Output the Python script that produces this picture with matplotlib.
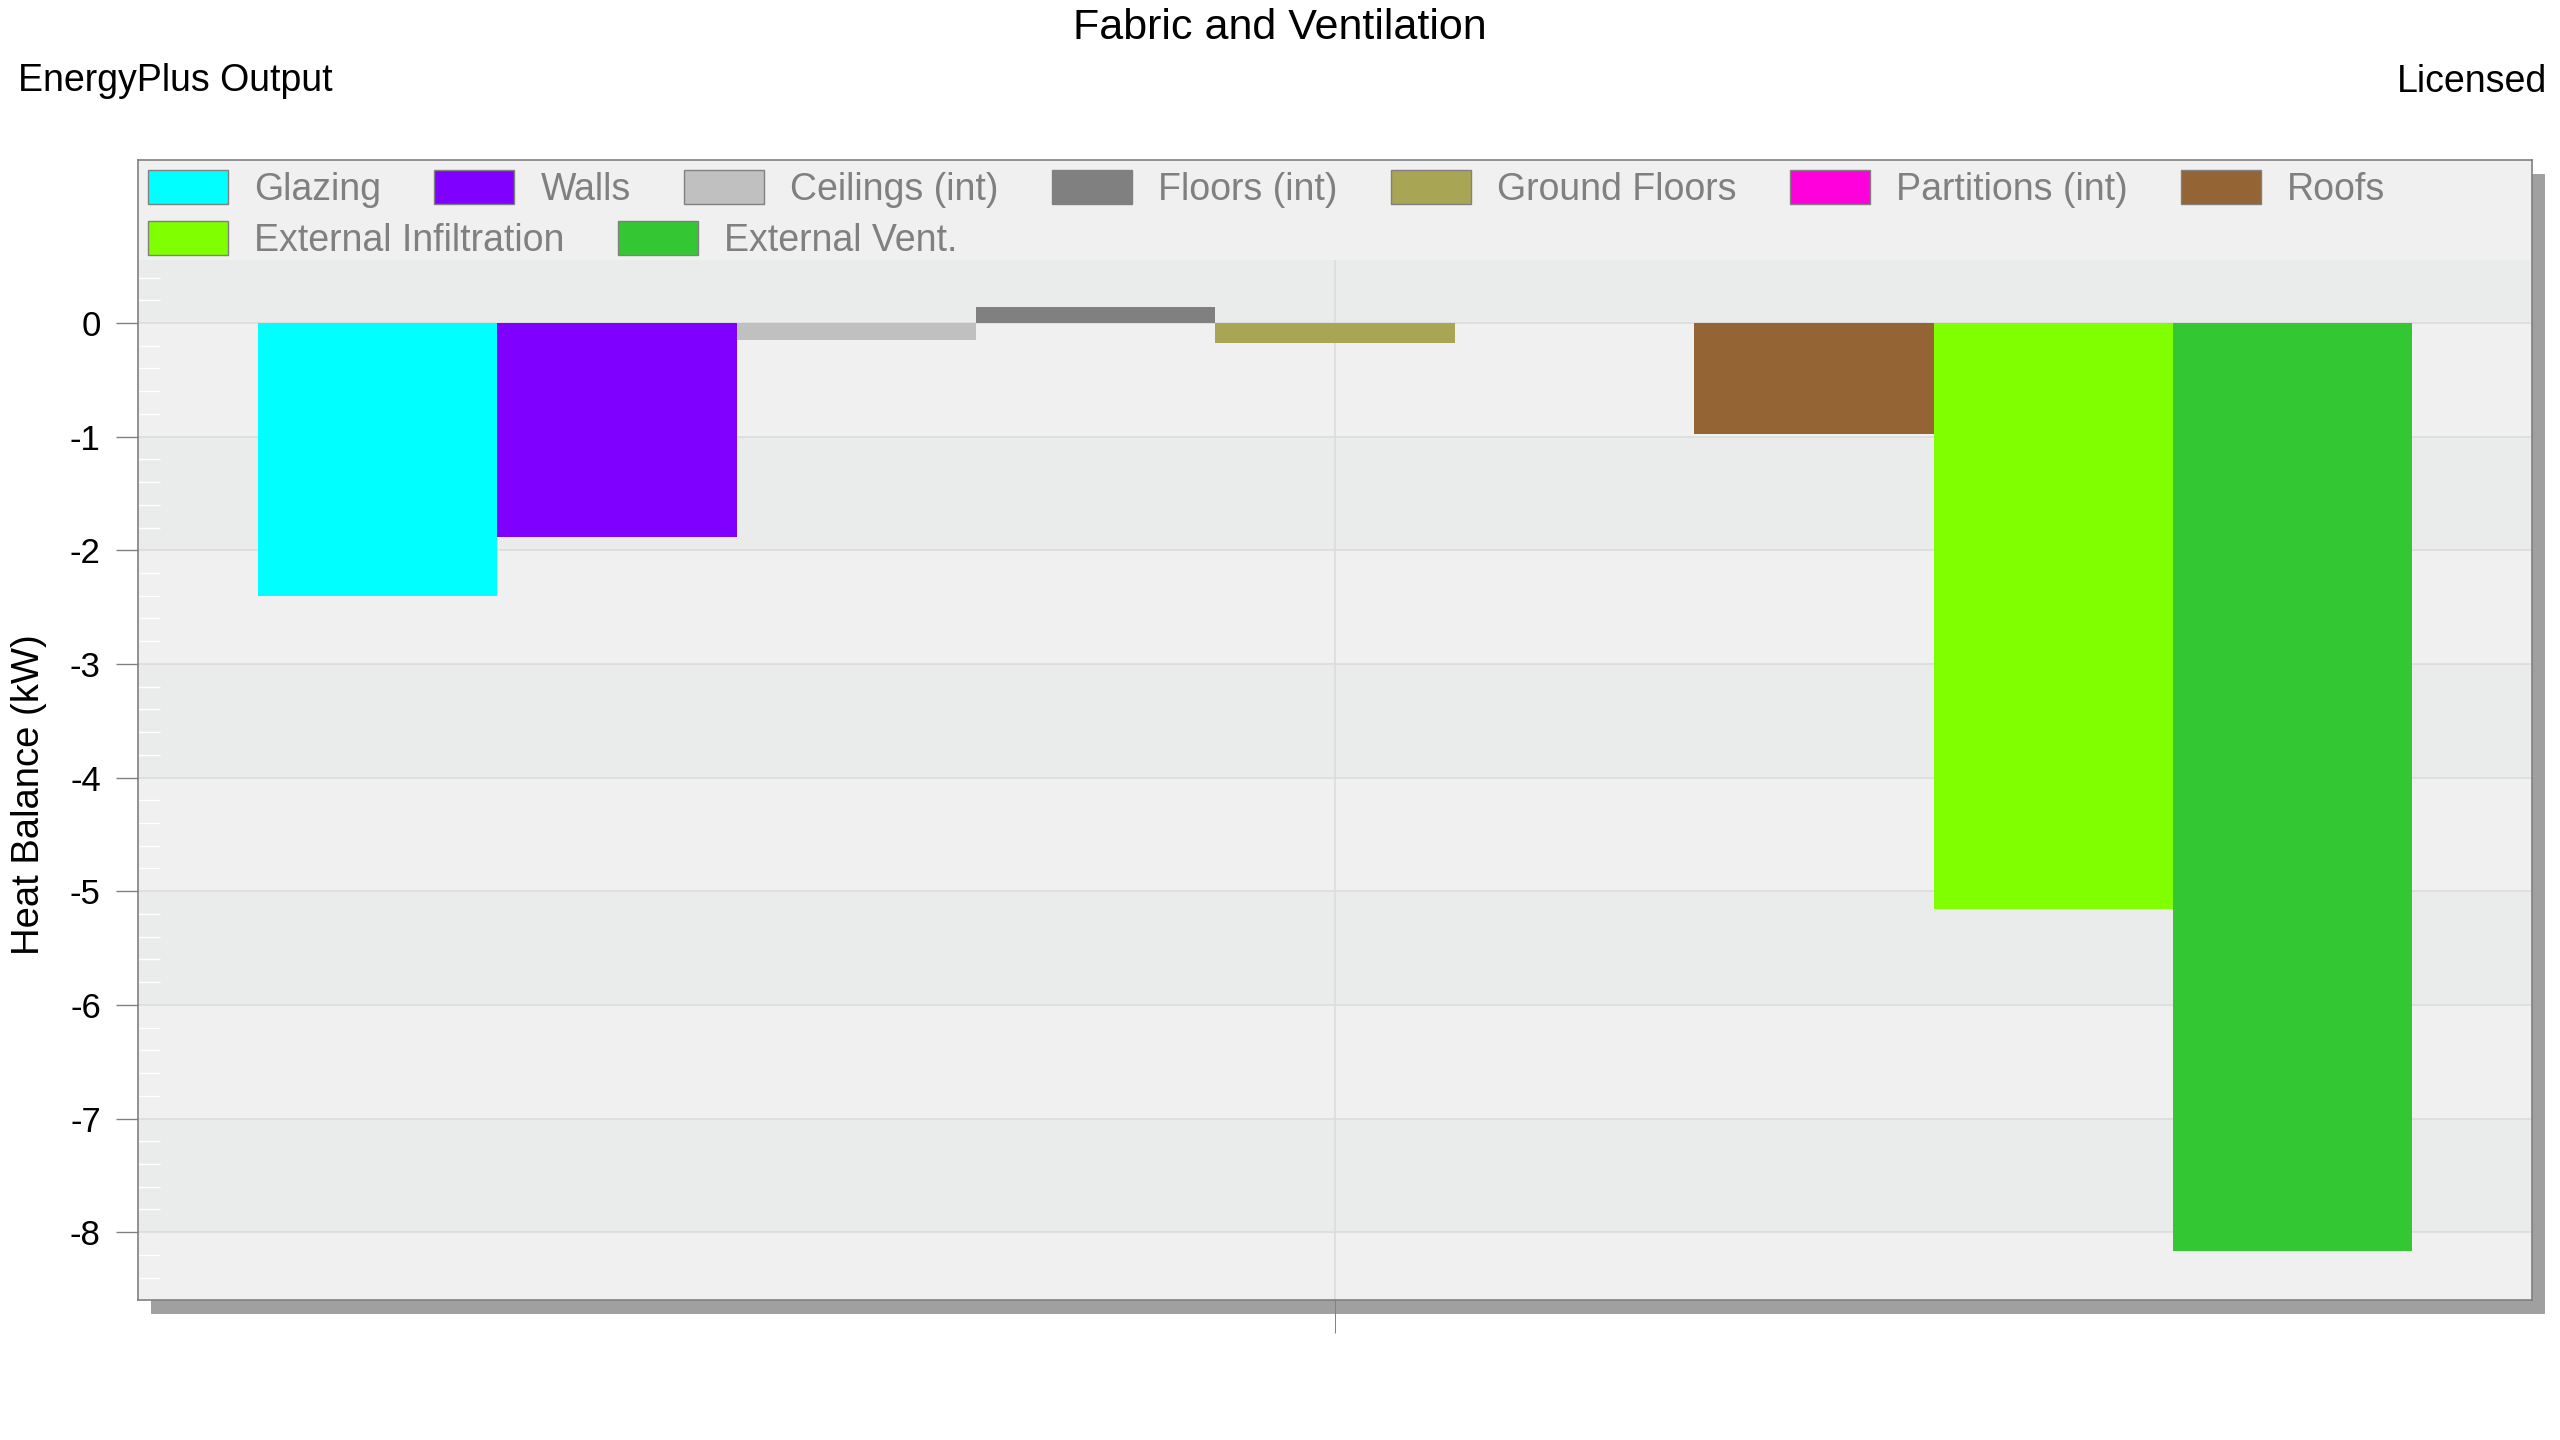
import numpy as np
import matplotlib
matplotlib.use("Agg")
import matplotlib.pyplot as plt
from matplotlib.patches import Patch, Rectangle
from matplotlib.ticker import FixedLocator, NullFormatter

plt.rcParams["font.family"] = ["Liberation Sans", "DejaVu Sans"]
plt.rcParams["axes.unicode_minus"] = False

# Heat balance components (kW)
labels = ["Glazing", "Walls", "Ceilings (int)", "Floors (int)", "Ground Floors",
          "Partitions (int)", "Roofs", "External Infiltration", "External Vent."]
values = [-2.40, -1.88, -0.15, 0.14, -0.18, 0.0, -0.98, -5.16, -8.17]
colors = ["#00FFFF", "#8000FF", "#C0C0C0", "#808080", "#A8A555",
          "#FF00DD", "#956434", "#80FF00", "#33C833"]
yticks = [0, -1, -2, -3, -4, -5, -6, -7, -8]

W, H = 2560, 1440
fig = plt.figure(figsize=(W / 100, H / 100), dpi=100)

# axes box in pixels
ax_l, ax_r, ax_t, ax_b = 138, 2532, 160, 1300
ax = fig.add_axes([ax_l / W, 1 - ax_b / H, (ax_r - ax_l) / W, (ax_b - ax_t) / H])

# drop shadow
fig.add_artist(Rectangle(((ax_l + 13) / W, (H - ax_b - 14) / H),
                         (ax_r - ax_l) / W, (ax_b - ax_t) / H,
                         transform=fig.transFigure, facecolor="#A0A0A0",
                         edgecolor="none", zorder=-1))

ymin, ymax = -8.597, 1.434
legend_floor = 0.554
ax.set_xlim(-0.5, 0.5)
ax.set_ylim(ymin, ymax)

# alternating bands
ax.set_facecolor("#EFF0EF")
for k in range(-9, 2):
    if k % 2 == 0:
        ax.axhspan(k, k + 1, facecolor="#EAECEB", edgecolor="none", zorder=0.2)
# legend strip at the top
ax.axhspan(legend_floor, ymax, facecolor="#EFF0EF", edgecolor="none", zorder=1)

# bars
n = len(values)
group = 0.9
bw = group / n
xs = -group / 2 + bw * (np.arange(n) + 0.5)
ax.bar(xs, values, width=bw, color=colors, edgecolor="none", zorder=2)

# grid
ax.set_axisbelow(True)
ax.grid(True, which="major", color="#DCDCDC", linewidth=1.2)

ax.set_yticks(yticks)
ax.set_yticklabels([str(t) for t in yticks])
minor = [v for v in np.round(np.arange(-8.4, 0.41, 0.2), 1) if abs(v - round(v)) > 1e-6]
ax.yaxis.set_minor_locator(FixedLocator(minor))
ax.yaxis.set_minor_formatter(NullFormatter())
ax.tick_params(axis="y", which="major", direction="out", length=15.8, width=1,
               color="#808080", pad=11, labelsize=25, labelcolor="black")
ax.tick_params(axis="y", which="minor", direction="in", length=15.8, width=1,
               color="white")

ax.set_xticks([0])
ax.set_xticklabels([""])
ax.tick_params(axis="x", which="major", direction="out", length=23.8, width=0.7,
               color="#808080")

for s in ax.spines.values():
    s.set_color("#808080")
    s.set_linewidth(1.2)

# legends (two flowing rows)
handles = [Patch(facecolor=c, edgecolor="#808080", linewidth=1) for c in colors]
leg_kw = dict(loc="center left", bbox_transform=fig.transFigure, frameon=False,
              fontsize=27, labelcolor="#808080", handlelength=2.13,
              handleheight=1.02, handletextpad=0.70, columnspacing=1.42,
              borderpad=0, borderaxespad=0)
leg1 = ax.legend(handles[:7], labels[:7], ncol=7,
                 bbox_to_anchor=(148 / W, 1 - 189 / H), **leg_kw)
ax.add_artist(leg1)
leg2 = ax.legend(handles[7:], labels[7:], ncol=2,
                 bbox_to_anchor=(148 / W, 1 - 240 / H), **leg_kw)
leg1.set_zorder(5)
leg2.set_zorder(5)

# texts
fig.text(0.5, 1 - 39 / H, "Fabric and Ventilation", ha="center", va="baseline",
         fontsize=31, color="black")
fig.text(18 / W, 1 - 91 / H, "EnergyPlus Output", ha="left", va="baseline",
         fontsize=27, color="black")
fig.text(2547 / W, 1 - 92 / H, "Licensed", ha="right", va="baseline",
         fontsize=27, color="black")
fig.text(29.5 / W, 1 - 795 / H, "Heat Balance (kW)", rotation=90,
         ha="center", va="center", fontsize=27.5, color="black")

fig.savefig("out.png", dpi=100, facecolor="white")
